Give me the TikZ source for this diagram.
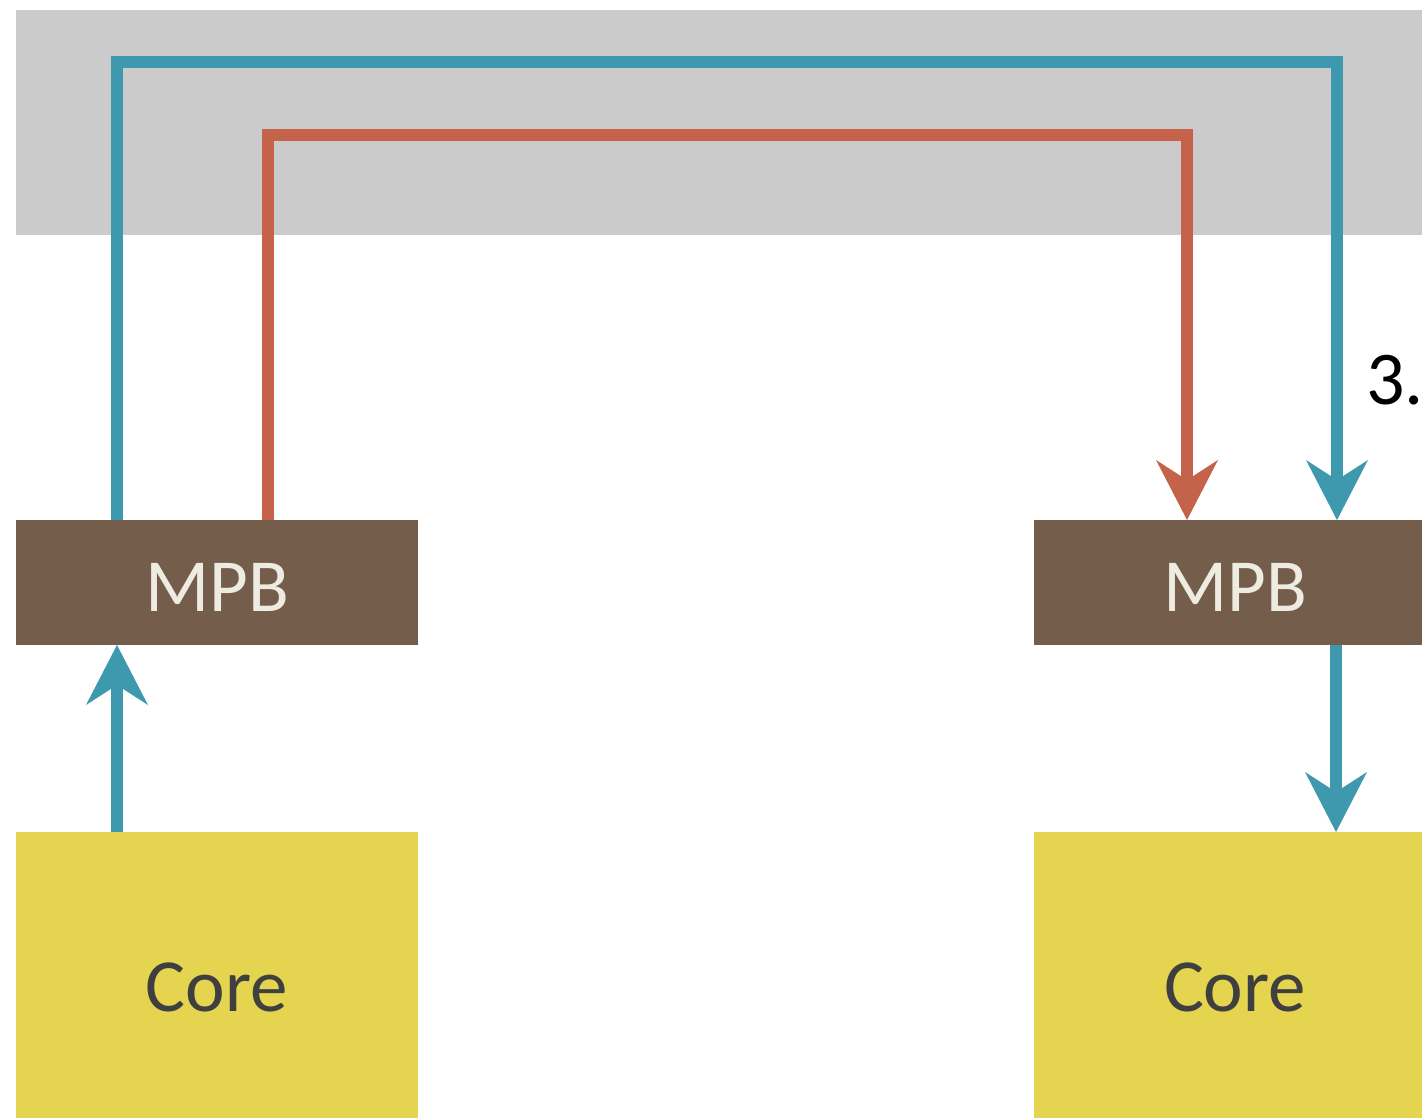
\documentclass[tikz,border=0pt]{standalone}
\usepackage{fontspec}
\setmainfont{Carlito}
\usepackage{xcolor}
\usepackage{tikz}
\usetikzlibrary{arrows.meta, positioning}

\definecolor{bandgray}{HTML}{CBCBCB}
\definecolor{linkblue}{HTML}{3E98AE}
\definecolor{linkred}{HTML}{C4634A}
\definecolor{mpbbrown}{HTML}{755D4C}
\definecolor{coreyellow}{HTML}{E5D44F}
\definecolor{mpbtext}{HTML}{EEEBE0}
\definecolor{coretext}{HTML}{3F3F3F}

\begin{document}
\begin{tikzpicture}[
  x=1pt, y=-1pt,
  node distance=0pt,
  mpb/.style={
    fill=mpbbrown,
    text=mpbtext,
    minimum width=402pt,
    minimum height=125pt,
    text height=57pt,
    inner sep=0pt,
    outer sep=0pt,
    font=\fontsize{75}{78}\selectfont
  },
  core/.style={
    fill=coreyellow,
    text=coretext,
    minimum width=402pt,
    minimum height=310pt,
    inner sep=0pt,
    outer sep=0pt,
    font=\fontsize{75}{78}\selectfont
  },
  link/.style={
    line width=12pt,
    line join=miter
  },
  arr/.style={
    link,
    -{Stealth[length=60pt, width=62pt, inset=20pt, line width=0pt]}
  }
]

\clip (0,0) rectangle (1422,1117);
\fill[white] (0,0) rectangle (1422,1117);

% on-chip network band
\fill[bandgray] (16,10) rectangle (1440,235);

\node [mpb] (mpbL) at (217,582.5) {MPB};
\node [mpb, right=616pt of mpbL] (mpbR) {MPB};

\node [core, below=187pt of mpbL] (coreL) {Core};
\node [core, below=187pt of mpbR] (coreR) {Core};

\node [anchor=west, inner sep=0pt, font=\fontsize{76}{78}\selectfont] (step3) at (1366,380) {3.};

\coordinate (busB) at (727,62);
\coordinate (busR) at (727,135);

\draw [arr, linkblue] ([xshift=-100pt]mpbL.north) |- (busB) -| ([xshift=102pt]mpbR.north);
\draw [arr, linkred] ([xshift=51pt]mpbL.north) |- (busR) -| ([xshift=-48pt]mpbR.north);

\draw [arr, linkblue] ([xshift=-100pt]coreL.north) -- ([xshift=-100pt]mpbL.south);
\draw [arr, linkblue] ([xshift=101pt]mpbR.south) -- ([xshift=101pt]coreR.north);

\end{tikzpicture}
\end{document}
